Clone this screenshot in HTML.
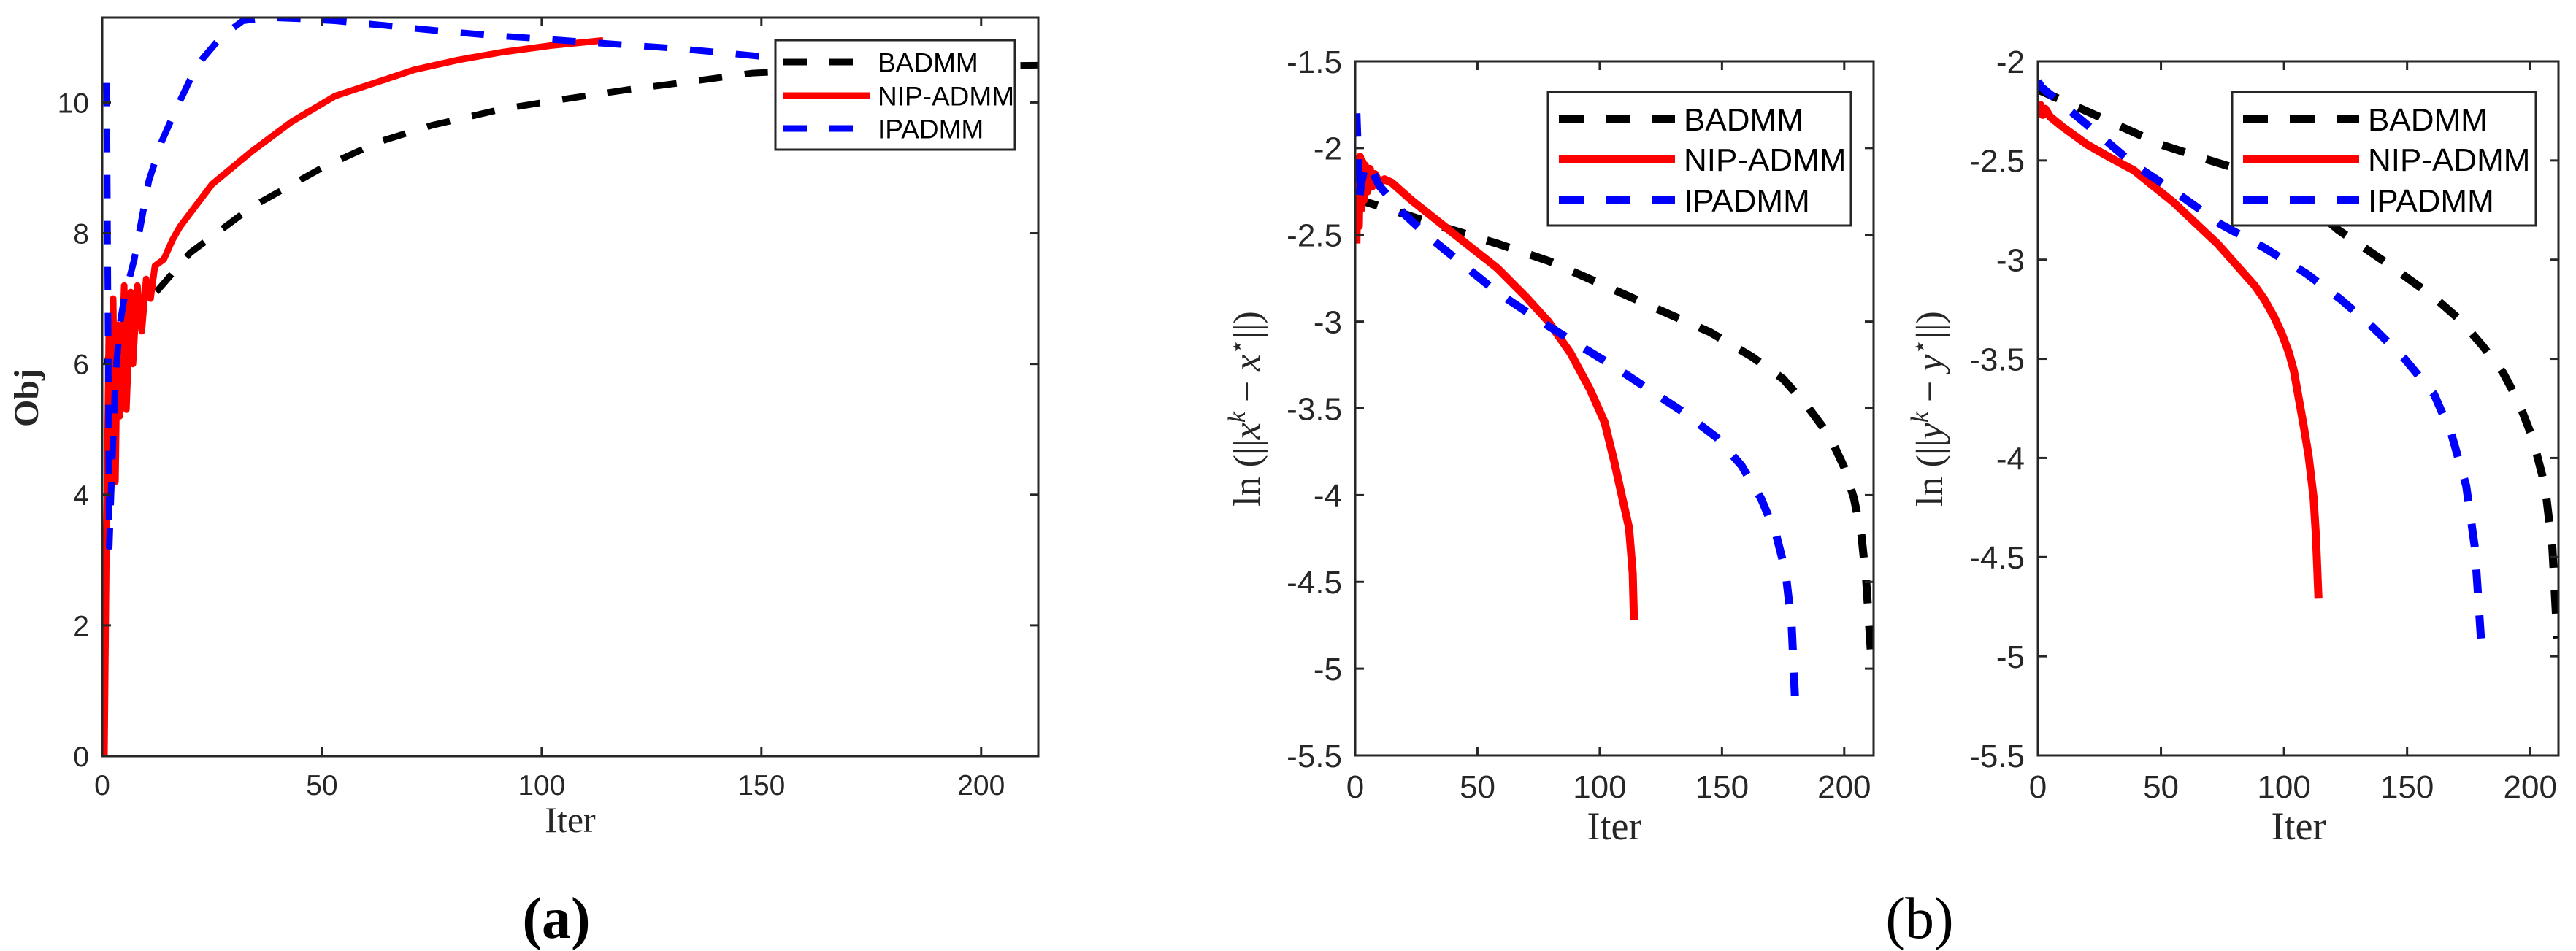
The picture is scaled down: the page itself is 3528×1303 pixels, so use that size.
<!DOCTYPE html>
<html><head><meta charset="utf-8"><style>
html,body{margin:0;padding:0;background:#fff}
svg{display:block}
text{font-family:"Liberation Sans",sans-serif;fill:#262626}
.serif{font-family:"Liberation Serif",serif}
</style></head><body>
<svg id="fig" width="3528" height="1303" viewBox="0 0 3528 1303" xmlns="http://www.w3.org/2000/svg"></svg>
<script>
// ---- Panel (a) data: objective vs iteration
const aBadIter=[1,3,6,11,20,34,50,63,75,91,105,120,135,148,165,180,200,213];
const aBadVal=[6.0,6.5,6.8,7.0,7.7,8.4,9.0,9.4,9.65,9.9,10.05,10.2,10.33,10.45,10.5,10.54,10.56,10.57];
const aNipIter=[0.5,1,1.5,2,2.5,3,3.5,4,5,5.5,6.5,7,8,9,10,11,12,14,16,17.7,25,34,43,53,62,71,81,91,102,114];
const aNipVal=[0,3.5,6.5,4.0,7.0,4.2,6.6,5.2,7.2,5.3,7.1,6.0,7.2,6.5,7.3,7.0,7.5,7.6,7.9,8.1,8.75,9.25,9.7,10.1,10.3,10.5,10.65,10.77,10.87,10.95];
const aIpaIter=[1,1.3,1.6,2,3,4,5,7.3,10.6,13.5,16.8,20,22.6,27,32,37.7,45,53,64,76,88,101,115,130,140,152,165,180];
const aIpaVal=[10.3,7.0,3.2,4.0,5.8,6.6,7.0,7.6,8.8,9.4,9.9,10.35,10.65,11.0,11.25,11.3,11.28,11.25,11.18,11.1,11.03,10.97,10.9,10.83,10.77,10.69,10.63,10.58];
const aXTicks=[0,50,100,150,200];
const aYTicks=[0,2,4,6,8,10];
// ---- Panel (b) left: ln||x^k - x*||
const b1BadIter=[0.5,2,20,37,58,79,100,124,145,162,175,185,194,200,204,207,209,211];
const b1BadVal=[-2.28,-2.3,-2.38,-2.46,-2.55,-2.65,-2.78,-2.93,-3.06,-3.2,-3.33,-3.49,-3.66,-3.84,-4.02,-4.23,-4.5,-4.93];
const b1NipIter=[0.5,1,1.5,2,2.5,3,3.5,4,5,6,7,8,10,12,15,23,40,58,70,79,88,96,102,106,109,112,113.5,114];
const b1NipVal=[-2.55,-2.1,-2.45,-2.05,-2.35,-2.08,-2.3,-2.1,-2.25,-2.12,-2.22,-2.15,-2.2,-2.18,-2.2,-2.3,-2.49,-2.69,-2.86,-3.0,-3.18,-3.39,-3.58,-3.81,-4.0,-4.19,-4.45,-4.72];
const b1IpaIter=[0.5,1,1.5,2.5,4,5.5,10,20,30,44,58,75,92,106,120,134,148,158,166,172,176,178.5,180];
const b1IpaVal=[-1.8,-2.0,-2.3,-2.2,-2.1,-2.09,-2.22,-2.38,-2.51,-2.67,-2.83,-2.99,-3.14,-3.26,-3.39,-3.52,-3.67,-3.83,-4.02,-4.22,-4.44,-4.75,-5.21];
const b1YTicks=[-5.5,-5,-4.5,-4,-3.5,-3,-2.5,-2,-1.5];
// ---- Panel (b) right: ln||y^k - y*||
const b2BadIter=[0,1.4,25,50,70,91,108,122,142,161,172,181,189,195,201,206,209,211];
const b2BadVal=[-2.13,-2.15,-2.28,-2.42,-2.5,-2.58,-2.7,-2.85,-3.02,-3.19,-3.31,-3.44,-3.57,-3.71,-3.9,-4.14,-4.45,-4.91];
const b2NipIter=[0,1,2,3,5,10,20,30,39,47,55,61,67,73,78,83,88,92,96,99,102,104,106,108,110,112,113,114];
const b2NipVal=[-2.25,-2.22,-2.27,-2.24,-2.28,-2.33,-2.42,-2.49,-2.55,-2.63,-2.71,-2.78,-2.85,-2.92,-2.99,-3.06,-3.13,-3.2,-3.29,-3.37,-3.47,-3.56,-3.7,-3.84,-3.99,-4.2,-4.4,-4.71];
const b2IpaIter=[0,1.4,20,39,56,74,92,109,123,136,149,161,168,174,177.5,180];
const b2IpaVal=[-2.1,-2.13,-2.32,-2.52,-2.66,-2.82,-2.94,-3.07,-3.2,-3.34,-3.5,-3.68,-3.88,-4.14,-4.45,-4.91];
const b2YTicks=[-5.5,-5,-4.5,-4,-3.5,-3,-2.5,-2];
const bXTicks=[0,50,100,150,200];
const seriesNames=["BADMM","NIP-ADMM","IPADMM"];

const NS="http://www.w3.org/2000/svg";
const svg=document.getElementById('fig');
function el(tag,attrs,parent,txt){const e=document.createElementNS(NS,tag);for(const k in attrs)e.setAttribute(k,attrs[k]);if(txt!==undefined)e.textContent=txt;(parent||svg).appendChild(e);return e;}
function scale(d0,d1,r0,r1){return v=>r0+(v-d0)*(r1-r0)/(d1-d0);}

function panel(cfg){
  const g=el('g',{});
  
  
  const X=scale(0,cfg.xmax,cfg.L,cfg.R), Y=scale(cfg.ymin,cfg.ymax,cfg.B,cfg.T);
  const clip=el('clipPath',{id:cfg.name+'-clip'},g);
  el('rect',{x:cfg.L,y:cfg.T,width:cfg.R-cfg.L,height:cfg.B-cfg.T},clip);
  const sg=el('g',{'clip-path':'url(#'+cfg.name+'-clip)'},g);
  const styles=[{c:'#000',d:'32 31'},{c:'#ff0000',d:''},{c:'#0000ff',d:'32 31'}];
  cfg.series.forEach((s,i)=>{
    const pts=s[0].map((v,j)=>X(v).toFixed(1)+','+Y(s[1][j]).toFixed(1)).join(' ');
    const p=el('polyline',{points:pts,fill:'none',stroke:styles[i].c,'stroke-width':cfg.lw,'stroke-linejoin':'round'},sg);
    if(styles[i].d)p.setAttribute('stroke-dasharray',styles[i].d);
    
    
  });
  const box=el('rect',{x:cfg.L,y:cfg.T,width:cfg.R-cfg.L,height:cfg.B-cfg.T,fill:'none',stroke:'#262626','stroke-width':3},g);
  
  
  cfg.xticks.forEach(t=>{
    const x=X(t);
    el('line',{x1:x,x2:x,y1:cfg.B,y2:cfg.B-12,stroke:'#262626','stroke-width':3},g);
    el('line',{x1:x,x2:x,y1:cfg.T,y2:cfg.T+12,stroke:'#262626','stroke-width':3},g);
    const tx=el('text',{x:x,y:cfg.B+cfg.fs+14,'font-size':cfg.fs,'text-anchor':'middle'},g,String(t));
    
    
  });
  cfg.yticks.forEach(t=>{
    const y=Y(t);
    el('line',{x1:cfg.L,x2:cfg.L+12,y1:y,y2:y,stroke:'#262626','stroke-width':3},g);
    el('line',{x1:cfg.R,x2:cfg.R-12,y1:y,y2:y,stroke:'#262626','stroke-width':3},g);
    const ty=el('text',{x:cfg.L-cfg.ypad,y:y+cfg.fs*0.36,'font-size':cfg.fs,'text-anchor':'end'},g,String(t));
    
    
  });
  const lg=el('g',{},g);
  
  
  const Lb=cfg.leg;
  el('rect',{x:Lb.x,y:Lb.y,width:Lb.w,height:Lb.h,fill:'#fff',stroke:'#262626','stroke-width':3},lg);
  seriesNames.forEach((n,i)=>{
    const yy=Lb.rows[i];
    const ln=el('line',{x1:Lb.lx1,x2:Lb.lx2,y1:yy,y2:yy,stroke:styles[i].c,'stroke-width':cfg.lw},lg);
    if(styles[i].d)ln.setAttribute('stroke-dasharray',Lb.dash);
    const t=el('text',{x:Lb.tx,y:yy+Lb.fs*0.36,'font-size':Lb.fs,style:'fill:#000'},lg,n);
    
    
  });
  return g;
}

panel({name:'panel-a',L:140,R:1422,T:24,B:1036,xmax:213,ymin:0,ymax:11.3,lw:9,fs:39,ypad:18,
  series:[[aBadIter,aBadVal],[aNipIter,aNipVal],[aIpaIter,aIpaVal]],xticks:aXTicks,yticks:aYTicks,
  leg:{x:1062,y:55,w:328,h:150,rows:[85,131,176],lx1:1073,lx2:1192,tx:1202,fs:37,dash:'32 31'}});
panel({name:'panel-b-x',L:1856,R:2566,T:84,B:1035,xmax:212,ymin:-5.5,ymax:-1.5,lw:11,fs:44,ypad:18,
  series:[[b1BadIter,b1BadVal],[b1NipIter,b1NipVal],[b1IpaIter,b1IpaVal]],xticks:bXTicks,yticks:b1YTicks,
  leg:{x:2120,y:126,w:415,h:183,rows:[163,218,274],lx1:2135,lx2:2294,tx:2306,fs:44,dash:'34 30'}});
panel({name:'panel-b-y',L:2791,R:3504,T:84,B:1035,xmax:211.5,ymin:-5.5,ymax:-2,lw:11,fs:44,ypad:18,
  series:[[b2BadIter,b2BadVal],[b2NipIter,b2NipVal],[b2IpaIter,b2IpaVal]],xticks:bXTicks,yticks:b2YTicks,
  leg:{x:3057,y:126,w:416,h:183,rows:[163,218,274],lx1:3072,lx2:3231,tx:3243,fs:44,dash:'34 30'}});

function label(attrs,txt,name){const t=el('text',attrs,svg,txt);return t;}
label({x:781,y:1140,'font-size':50,'text-anchor':'middle',class:'serif'},'Iter','x-axis-title-a');
label({x:2211,y:1150,'font-size':54,'text-anchor':'middle',class:'serif'},'Iter','x-axis-title-b-left');
label({x:3148,y:1150,'font-size':54,'text-anchor':'middle',class:'serif'},'Iter','x-axis-title-b-right');
label({x:0,y:0,'font-size':48,'font-weight':'bold','text-anchor':'middle',class:'serif',transform:'translate(52,545) rotate(-90)'},'Obj','y-axis-title-a');
const yl1=label({x:0,y:0,'font-size':52,'text-anchor':'middle',class:'serif',transform:'translate(1725,560) rotate(-90)'},'','y-axis-title-b-left');
yl1.innerHTML='ln (||<tspan font-style="italic">x</tspan><tspan font-size="34" dy="-20" font-style="italic">k</tspan><tspan dy="20"> − </tspan><tspan font-style="italic">x</tspan><tspan font-size="34" dy="-20">⋆</tspan><tspan dy="20">||)</tspan>';
const yl2=label({x:0,y:0,'font-size':52,'text-anchor':'middle',class:'serif',transform:'translate(2660,560) rotate(-90)'},'','y-axis-title-b-right');
yl2.innerHTML='ln (||<tspan font-style="italic">y</tspan><tspan font-size="34" dy="-20" font-style="italic">k</tspan><tspan dy="20"> − </tspan><tspan font-style="italic">y</tspan><tspan font-size="34" dy="-20">⋆</tspan><tspan dy="20">||)</tspan>';
label({x:762,y:1285,'font-size':80,'font-weight':'bold','text-anchor':'middle',class:'serif',style:'fill:#000'},'(a)','caption-a');
label({x:2629,y:1285,'font-size':80,'text-anchor':'middle',class:'serif',style:'fill:#000'},'(b)','caption-b');
</script>
</body></html>
